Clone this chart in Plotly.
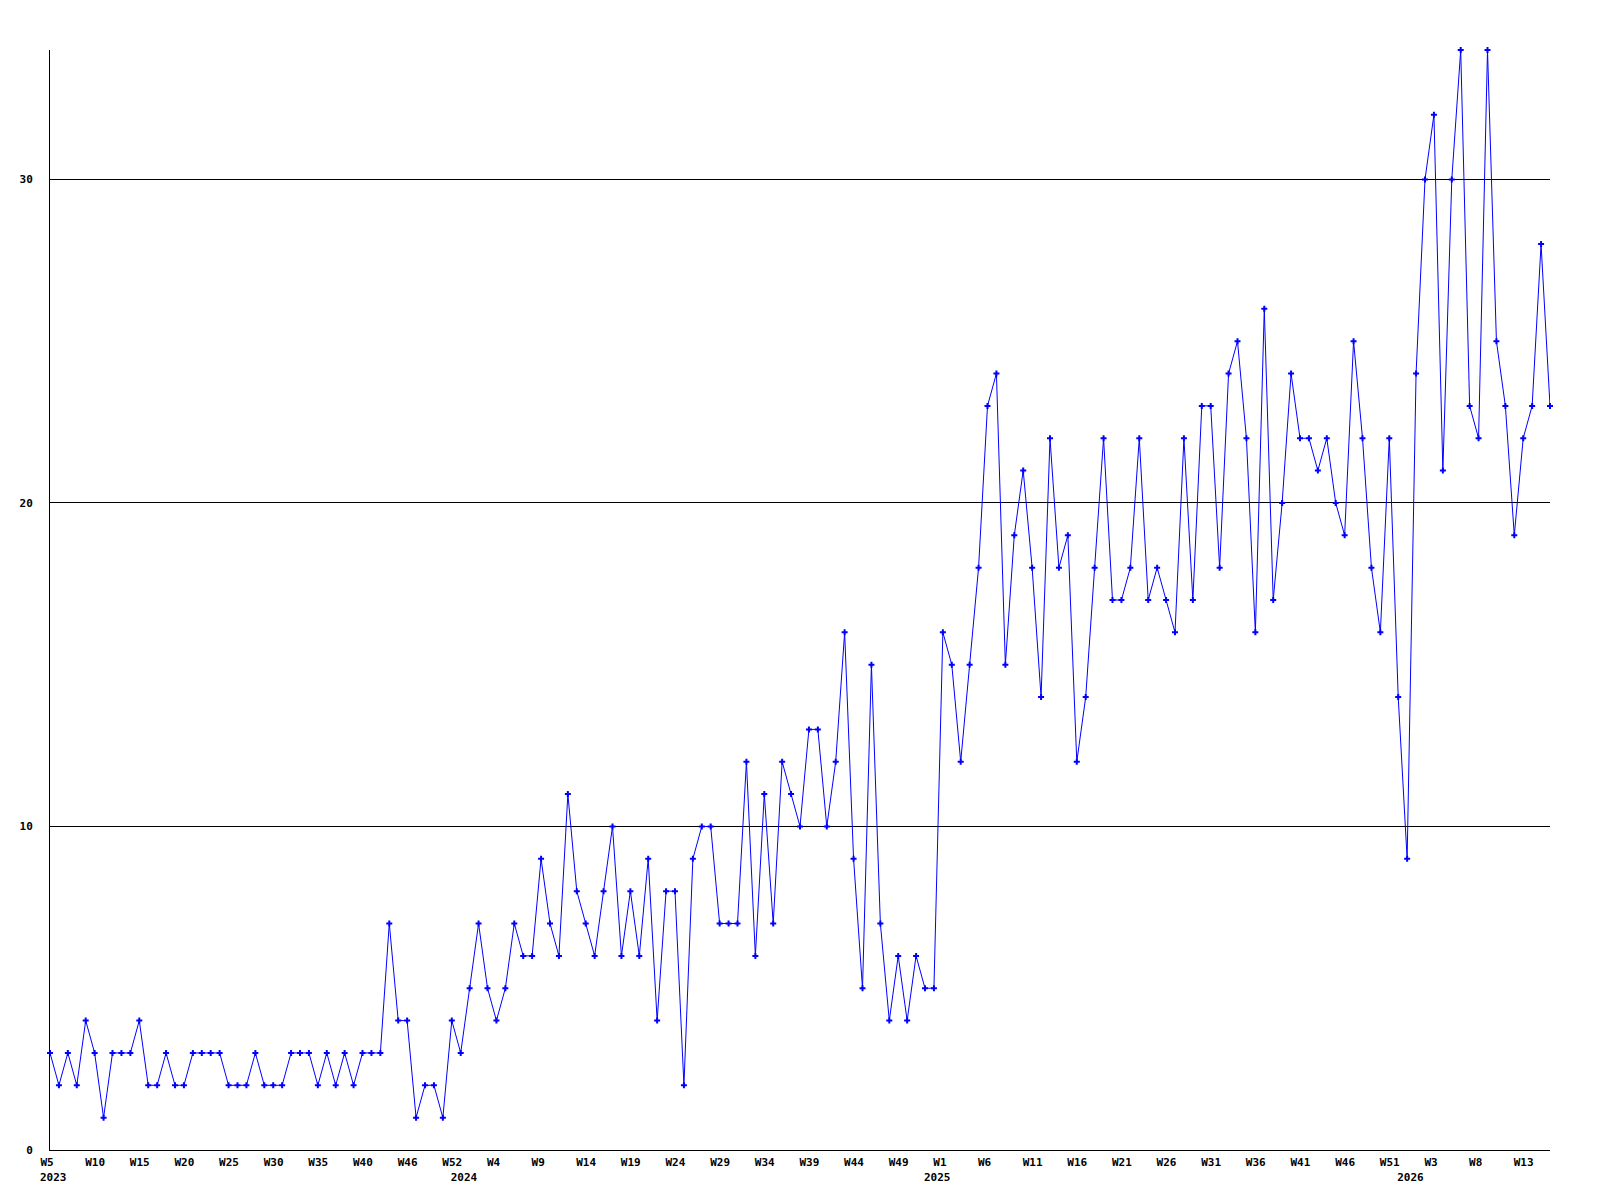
import plotly.graph_objects as go

# Weekly counts, one value per week category (weeks with no data are omitted)
values_2023 = [3, 2, 3, 2, 4, 3, 1, 3, 3, 3,
               4, 2, 2, 3, 2, 2, 3, 3, 3, 3,
               2, 2, 2, 3, 2, 2, 2, 3, 3, 3,
               2, 3, 2, 3, 2, 3, 3, 3, 7, 4,
               4, 1, 2, 2, 1, 4]
values_2024 = [3, 5, 7, 5,
               4, 5, 7, 6, 6, 9, 7, 6, 11, 8,
               7, 6, 8, 10, 6, 8, 6, 9, 4, 8,
               8, 2, 9, 10, 10, 7, 7, 7, 12, 6,
               11, 7, 12, 11, 10, 13, 13, 10, 12, 16,
               9, 5, 15, 7, 4, 6, 4, 6, 5]
values_2025 = [5,
               16, 15, 12, 15, 18, 23, 24, 15, 19, 21,
               18, 14, 22, 18, 19, 12, 14, 18, 22, 17,
               17, 18, 22, 17, 18, 17, 16, 22, 17, 23,
               23, 18, 24, 25, 22, 16, 26, 17, 20, 24,
               22, 22, 21, 22, 20, 19, 25, 22, 18, 16,
               22, 14]
values_2026 = [9, 24, 30, 32, 21, 30, 34, 23,
               22, 34, 25, 23, 19, 22, 23, 28, 23]

year_labels = ["2023", "2024", "2025", "2026"]
week_tick_labels = ["W5", "W10", "W15", "W20", "W25", "W30", "W35", "W40", "W46", "W52",
                    "W4", "W9", "W14", "W19", "W24", "W29", "W34", "W39", "W44", "W49",
                    "W1", "W6", "W11", "W16", "W21", "W26", "W31", "W36", "W41", "W46",
                    "W51", "W3", "W8", "W13"]
y_ticks = [0, 10, 20, 30]

series = [values_2023, values_2024, values_2025, values_2026]
y = [v for s in series for v in s]
x = list(range(len(y)))

year_starts = []
pos = 0
for s in series:
    year_starts.append(pos)
    pos += len(s)

LABEL_STEP = 5
week_tick_pos = [LABEL_STEP * k for k in range(len(week_tick_labels))]

FONT = dict(family="DejaVu Sans Mono", size=11, color="black", weight="bold")
xr = [0, len(y) - 1]

fig = go.Figure()
fig.add_trace(go.Scatter(
    x=x, y=y, mode="lines+markers",
    line=dict(color="#0000FF", width=1),
    marker=dict(symbol="cross", size=5, color="#0000FF", line=dict(width=0)),
    cliponaxis=False, showlegend=False, hoverinfo="skip",
))
# invisible trace so the year axis is drawn
fig.add_trace(go.Scatter(
    x=[0], y=[0], xaxis="x2", mode="markers",
    marker=dict(opacity=0), showlegend=False, hoverinfo="skip",
))

fig.update_layout(
    width=1600, height=1200,
    margin=dict(l=42, r=58, t=42, b=58),
    plot_bgcolor="white", paper_bgcolor="white",
    xaxis=dict(
        range=xr, tickmode="array", tickvals=week_tick_pos, ticktext=week_tick_labels,
        ticks="", showgrid=False, zeroline=False,
        showline=True, linecolor="black", linewidth=1,
        tickfont=FONT, ticklabelposition="outside right",
        ticklabelshift=-10, ticklabelstandoff=2,
    ),
    xaxis2=dict(
        overlaying="x", anchor="y", side="bottom",
        range=xr, tickmode="array", tickvals=year_starts, ticktext=year_labels,
        ticks="", showgrid=False, zeroline=False, showline=False,
        tickfont=FONT, ticklabelposition="outside right",
        ticklabelshift=-10, ticklabelstandoff=19,
    ),
    yaxis=dict(
        range=[0, 34], tickmode="array", tickvals=y_ticks,
        ticktext=[str(t) for t in y_ticks],
        ticks="", showgrid=True, gridcolor="black", gridwidth=1,
        zeroline=False, showline=True, linecolor="black", linewidth=1,
        tickfont=FONT, ticklabelstandoff=14,
    ),
)

fig.write_html("out.html")
